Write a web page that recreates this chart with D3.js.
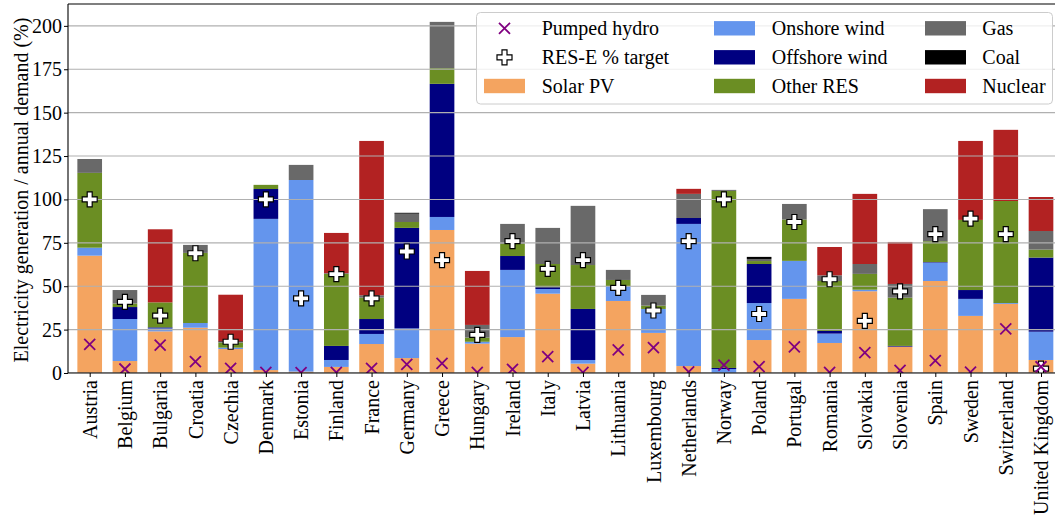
<!DOCTYPE html>
<html><head><meta charset="utf-8">
<script src="https://cdn.jsdelivr.net/npm/d3@7"></script>
<style>
body{margin:0;background:#fff;overflow:hidden;}
svg{display:block;}
text{font-family:"Liberation Serif","Times New Roman",serif;fill:#000;}
</style>
</head><body><svg id="c" width="1055" height="516"></svg>
<script>
const countries = ["Austria","Belgium","Bulgaria","Croatia","Czechia","Denmark","Estonia","Finland","France","Germany","Greece","Hungary","Ireland","Italy","Latvia","Lithuania","Luxembourg","Netherlands","Norway","Poland","Portugal","Romania","Slovakia","Slovenia","Spain","Sweden","Switzerland","United Kingdom"];
const solarPV     = [67.6, 6.9, 24.0, 26.1, 13.8, 1.7, 0.8, 3.5, 16.7, 8.6, 82.4, 16.9, 20.7, 45.7, 5.4, 41.5, 23.1, 4.0, 0.0, 19.0, 42.7, 17.3, 47.1, 15.2, 53.0, 32.9, 39.8, 7.5];
const onshoreWind = [4.6, 24.2, 1.7, 2.7, 0.8, 87.1, 110.4, 4.0, 5.8, 17.1, 7.5, 1.1, 38.7, 2.7, 2.1, 8.6, 13.8, 81.9, 2.3, 21.3, 21.9, 5.4, 0.9, 0.0, 10.6, 9.8, 0.5, 16.3];
const offshoreWind= [0, 6.9, 0.6, 0, 0, 17.2, 0, 8.1, 8.6, 57.9, 76.7, 0, 8.0, 1.0, 29.4, 0, 0, 3.4, 0.6, 22.5, 0, 1.5, 0, 0.4, 0.3, 5.1, 0, 42.7];
const otherRES    = [43.1, 2.0, 14.4, 40.4, 2.9, 2.4, 0, 41.5, 12.3, 3.4, 9.0, 2.4, 7.1, 13.4, 25.3, 3.5, 1.9, 0, 102.0, 1.7, 23.8, 28.8, 9.1, 27.8, 12.0, 40.4, 58.8, 4.6];
const gas         = [8.0, 7.8, 0, 4.6, 0.4, 0, 8.7, 0.4, 1.4, 4.8, 26.7, 7.3, 11.4, 20.8, 34.1, 5.8, 6.2, 13.9, 0.6, 1.2, 9.0, 3.3, 5.7, 7.9, 18.5, 0, 0, 10.7];
const coal        = [0, 0, 0, 0, 0.4, 0, 0, 0, 0, 0.5, 0, 0, 0, 0, 0, 0, 0, 0, 0, 1.2, 0, 0, 0, 0, 0, 0, 0, 0];
const nuclear     = [0, 0, 42.1, 0, 26.8, 0, 0, 23.2, 88.9, 0, 0, 31.1, 0, 0, 0, 0, 0, 2.9, 0, 0, 0, 16.3, 40.4, 24.2, 0, 45.5, 41.0, 19.6];
const pumpedHydro = [16.5, 2.3, 16.1, 6.5, 2.7, 0.3, 0.2, 0.3, 2.7, 5.0, 5.6, 0.3, 2.1, 9.4, 0.3, 13.3, 14.6, 0.6, 4.6, 3.7, 15.0, 0.3, 11.7, 1.5, 7.1, 0.5, 25.4, 3.6];
const resTarget   = [100, 41, 33, 69, 18, 100, 43, 57, 43, 70, 65, 22, 76, 60, 65, 49, 36, 76, 100, 34, 87, 54, 30, 47, 80, 89, 80, 2.5];
const yTicks = [0, 25, 50, 75, 100, 125, 150, 175, 200];
const seriesNames = ["Solar PV","Onshore wind","Offshore wind","Other RES","Gas","Coal","Nuclear"];
const seriesColors = ["#F4A460","#6495ED","#000080","#6B8E23","#696969","#000000","#B22222"];

const seriesData = [solarPV, onshoreWind, offshoreWind, otherRES, gas, coal, nuclear];
const table = countries.map((c, i) => {
  const row = {country: c};
  seriesNames.forEach((s, k) => row[s] = seriesData[k][i]);
  return row;
});

const svg = d3.select("#c");
const L = 68, T = 4, B = 373, R = 1062;
const x = d3.scalePoint().domain(countries).range([89.7, 1041]);
const bw = x.step() * 0.7;
const y = d3.scaleLinear().domain([0, 212.6]).range([B, T]);
const color = d3.scaleOrdinal().domain(seriesNames).range(seriesColors);

svg.append("defs").append("clipPath").attr("id", "clip")
  .append("rect").attr("x", L).attr("y", T).attr("width", R - L).attr("height", B - T);

const stacked = d3.stack().keys(seriesNames)(table);
const plot = svg.append("g").attr("clip-path", "url(#clip)");
plot.selectAll("g.series").data(stacked).join("g")
  .attr("fill", d => color(d.key))
  .selectAll("rect").data(d => d).join("rect")
  .attr("x", d => x(d.data.country) - bw / 2)
  .attr("width", bw)
  .attr("y", d => y(d[1]))
  .attr("height", d => Math.max(0, y(d[0]) - y(d[1])));

// grid (above bars)
plot.selectAll("line.grid").data(yTicks).join("line")
  .attr("x1", L).attr("x2", R).attr("y1", d => y(d)).attr("y2", d => y(d))
  .attr("stroke", "#b0b0b0").attr("stroke-width", 1.1);

// markers
const plusPath = s => {
  const a = s / 6, b = s / 2;
  return `M${-a},${-b}H${a}V${-a}H${b}V${a}H${a}V${b}H${-a}V${a}H${-b}V${-a}H${-a}Z`;
};
plot.selectAll("path.target").data(countries).join("path")
  .attr("d", plusPath(15))
  .attr("transform", (c, i) => `translate(${x(c)},${y(resTarget[i])})`)
  .attr("fill", "#fff").attr("stroke", "#000").attr("stroke-width", 1.2);
const xPath = s => `M${-s/2},${-s/2}L${s/2},${s/2}M${-s/2},${s/2}L${s/2},${-s/2}`;
plot.selectAll("path.ph").data(countries).join("path")
  .attr("d", xPath(11))
  .attr("transform", (c, i) => `translate(${x(c)},${y(pumpedHydro[i])})`)
  .attr("fill", "none").attr("stroke", "#800080").attr("stroke-width", 1.8);

// axes
const yAxis = svg.append("g").attr("transform", `translate(${L},0)`)
  .call(d3.axisLeft(y).tickValues(yTicks).tickSize(4).tickPadding(2));
yAxis.select(".domain").remove();
yAxis.selectAll("text").style("font-size", "20px").style("font-family", "Liberation Serif");
yAxis.selectAll("line").attr("stroke", "#000");

const xAxis = svg.append("g").attr("transform", `translate(0,${B})`)
  .call(d3.axisBottom(x).tickSize(4));
xAxis.select(".domain").remove();
xAxis.selectAll("line").attr("stroke", "#000");
xAxis.selectAll("text")
  .attr("transform", "rotate(-90)")
  .attr("x", -7).attr("y", 0).attr("dy", "0.33em")
  .style("text-anchor", "end")
  .style("font-size", "20px").style("font-family", "Liberation Serif");

// spines
svg.append("line").attr("x1", L).attr("x2", L).attr("y1", T).attr("y2", B).attr("stroke", "#000").attr("stroke-width", 1.1);
svg.append("line").attr("x1", L).attr("x2", R).attr("y1", B).attr("y2", B).attr("stroke", "#000").attr("stroke-width", 1.1);
svg.append("line").attr("x1", L).attr("x2", R).attr("y1", T).attr("y2", T).attr("stroke", "#000").attr("stroke-width", 1.1);

// y label
svg.append("text")
  .attr("transform", "translate(21,190) rotate(-90)")
  .attr("text-anchor", "middle").attr("dominant-baseline", "central")
  .style("font-size", "20px")
  .text("Electricity generation / annual demand (%)");

// legend
const lg = svg.append("g");
lg.append("rect").attr("x", 476.5).attr("y", 12.5).attr("width", 576).attr("height", 91.5).attr("rx", 4)
  .attr("fill", "#fff").attr("fill-opacity", 0.8).attr("stroke", "#cccccc").attr("stroke-width", 1);
const rowY = [28.3, 57.3, 86];
const legendItems = [
  {type: "x", label: "Pumped hydro", col: 0, row: 0},
  {type: "plus", label: "RES-E % target", col: 0, row: 1},
  {type: "patch", label: "Solar PV", col: 0, row: 2},
  {type: "patch", label: "Onshore wind", col: 1, row: 0},
  {type: "patch", label: "Offshore wind", col: 1, row: 1},
  {type: "patch", label: "Other RES", col: 1, row: 2},
  {type: "patch", label: "Gas", col: 2, row: 0},
  {type: "patch", label: "Coal", col: 2, row: 1},
  {type: "patch", label: "Nuclear", col: 2, row: 2}
];
const colX = [484, 714, 925];
const txtX = [541.7, 771.7, 982.3];
legendItems.forEach(it => {
  const cy = rowY[it.row];
  if (it.type === "patch") {
    lg.append("rect").attr("x", colX[it.col]).attr("y", cy - 7.2).attr("width", 41).attr("height", 14.4)
      .attr("fill", color(it.label));
  } else if (it.type === "x") {
    lg.append("path").attr("d", xPath(11)).attr("transform", `translate(504.5,${cy})`)
      .attr("fill", "none").attr("stroke", "#800080").attr("stroke-width", 1.8);
  } else {
    lg.append("path").attr("d", plusPath(15)).attr("transform", `translate(504.5,${cy})`)
      .attr("fill", "#fff").attr("stroke", "#000").attr("stroke-width", 1.2);
  }
  lg.append("text").attr("x", txtX[it.col]).attr("y", cy).attr("dy", "0.35em")
    .style("font-size", "20px").text(it.label);
});
</script>
</body></html>
